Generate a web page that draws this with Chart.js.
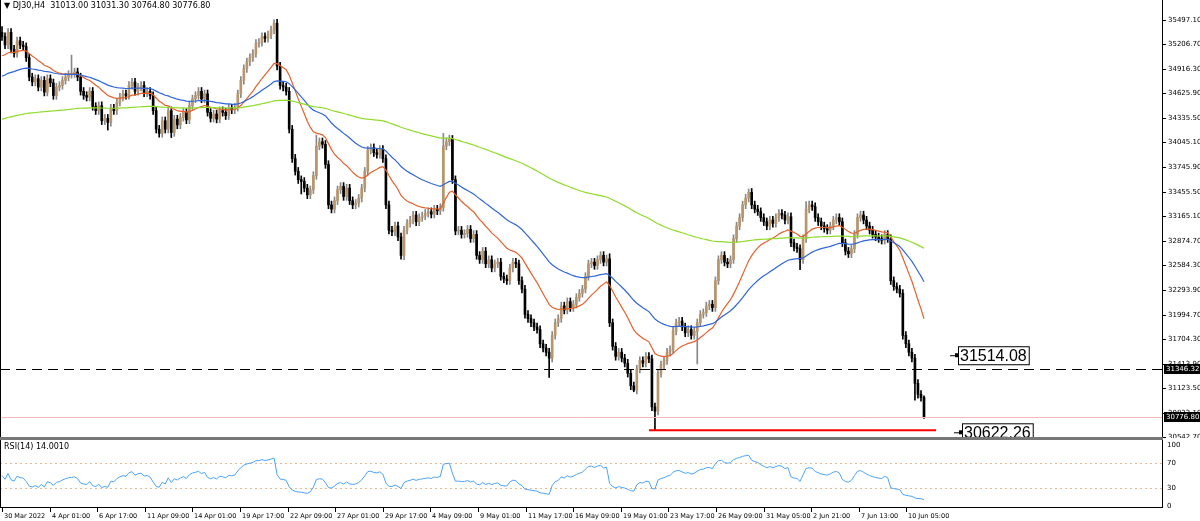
<!DOCTYPE html>
<html><head><meta charset="utf-8">
<script src="https://cdn.jsdelivr.net/npm/chart.js@4/dist/chart.umd.min.js"></script>
<style>
html,body{margin:0;padding:0;background:#fff;width:1200px;height:521px;overflow:hidden;font-family:"Liberation Sans",Arial,sans-serif}
#main{position:absolute;left:0;top:0}
#rsi{position:absolute;left:0;top:440px}
#frame{position:absolute;left:0;top:0;width:1163px;height:508px;border-left:1px solid #000;border-right:1px solid #000;border-bottom:1px solid #000;box-sizing:border-box;pointer-events:none}
#sep{position:absolute;left:0;top:437px;width:1163px;height:3px;background:#777}
#title{position:absolute;left:4px;top:1px;font-size:8px;color:#000;font-family:"DejaVu Sans",sans-serif}
#rsit{position:absolute;left:4px;top:442px;font-size:8px;color:#000;font-family:"DejaVu Sans",sans-serif}
</style></head><body>
<canvas id="main" width="1200" height="438"></canvas>
<canvas id="rsi" width="1200" height="81"></canvas>
<div id="frame"></div><div id="sep"></div>
<div id="title">&#9660; DJ30,H4&nbsp; 31013.00 31031.30 30764.80 30776.80</div>
<div id="rsit">RSI(14) 14.0010</div>
<script>
// ---- data ----
const closes = [
35300,35200,35350,35150,35100,35250,35200,35180,35050,34820,
34760,34800,34700,34780,34640,34800,34750,34600,34700,34720,
34780,34820,34850,34860,34880,34820,34650,34600,34580,34650,
34470,34420,34480,34300,34330,34280,34450,34420,
34520,34580,34620,34600,34720,34760,34650,34700,34720,
34630,34650,34600,
34420,34200,34150,34300,34200,34420,34160,
34320,34250,34340,34400,34310,
34480,34560,34600,34650,34560,34620,
34400,34330,34380,34320,34420,34400,34360,
34450,34430,34460,
34620,34780,34920,35000,35050,35100,35220,
35230,35300,35280,35320,35380,35460,
34950,34720,34700,34650,
34200,33850,33700,33600,33580,
33500,33420,33480,
33650,34000,34050,34020,
33780,33300,33250,
33350,33480,33520,33400,33500,
33350,33300,33320,33380,33500,
33700,33950,33980,33920,33900,33960,33850,
33300,33000,
32980,33050,32920,32700,33000,
33080,33120,33180,33100,33150,33170,
33200,33220,33190,33250,33230,33270,
34000,34050,34080,
33600,
32990,33000,32950,
32960,33010,32900,32950,
32700,32650,32750,
32600,32650,32550,32600,32620,
32450,32420,32400,
32550,32620,32600,
32400,32300,32000,31950,
31900,31850,31820,
31650,31600,31550,31480,
31750,31900,31950,
32100,32050,32150,32080,32120,
32200,32250,32300,
32450,32600,32620,32580,
32650,32700,32620,32660,
31900,
31620,31500,31550,31480,
31420,31300,31150,31100,
31350,31450,31420,31500,31470,
30900,30850,
31300,31400,
31450,31550,31580,
31800,31900,31920,
31850,31780,31820,31750,31800,
31900,32000,32020,
32100,32120,32080,
32400,32650,32700,
32620,32600,32650,
32900,33050,33150,
33300,33380,33450,
33300,33250,33220,
33150,33100,33050,33120,33080,
33150,33200,33180,33120,33160,
32850,32800,32780,
32650,
32900,33250,33300,33280,
33150,33100,33050,
33020,33000,33050,
33120,33150,33100,
32850,32750,32720,32780,
32950,
33150,33180,33120,
33050,33000,32950,
32920,32900,32880,32950,32900,
32400,32330,
32300,32250,
31750,31650,
31550,31480,
31180,31050,
31013,30776.8];
const firstOpen = 35350;
// notable wick extremes (bar index -> price)
const highWicks = {0:35420,23:35080,90:35500,97:33900,104:34130,146:34150,148:34130,201:32720,247:33490,266:33340,305:31031.3};
const lowWicks  = {35:34190,56:34100,99:33430,133:32650,181:31250,209:31080,216:30622.26,230:31410,264:32530,302:30980,305:30764.8};
const defaultWick = 45;
const yTicks = ["35497.10","35206.70","34916.30","34625.90","34335.50","34045.10","33745.90","33455.50","33165.10","32874.70","32584.30","32293.90","31994.70","31704.30","31413.90","31123.50","30833.10","30542.70"];
const xTickLabels = ["30 Mar 2022","4 Apr 01:00","6 Apr 17:00","11 Apr 09:00","14 Apr 01:00","19 Apr 17:00","22 Apr 09:00","27 Apr 01:00","29 Apr 17:00","4 May 09:00","9 May 01:00","11 May 17:00","16 May 09:00","19 May 01:00","23 May 17:00","26 May 09:00","31 May 05:00","2 Jun 21:00","7 Jun 13:00","10 Jun 05:00"];
const lineLevel = 31346.32, bidLevel = 30776.8, supportLevel = 30622.26, resistLabel = "31514.08", supportLabel = "30622.26";
const rsiLevels = [70,30];
const emaSeeds = {fast:[21,35050], mid:[50,34810], slow:[200,34310]};

// ---- derived ----
const N = closes.length;
const opens = closes.map((c,i)=> i===0 ? firstOpen : closes[i-1]);
const highs = closes.map((c,i)=> highWicks[i] ?? Math.max(opens[i],c)+defaultWick);
const lows  = closes.map((c,i)=> lowWicks[i] ?? Math.min(opens[i],c)-defaultWick);
function ema(p,seed){let v=seed;return closes.map((c,i)=>{v=v+(c-v)*2/(p+1);return {x:i,y:v};});}
function rsi(p){let ag=30,al=30,out=[];for(let i=0;i<N;i++){const ch=i?closes[i]-closes[i-1]:0;const g=Math.max(ch,0),l=Math.max(-ch,0);ag=(ag*(p-1)+g)/p;al=(al*(p-1)+l)/p;out.push({x:i,y:100-100/(1+ag/al)});}return out;}

const PX0=2, PXLAST=924, RIGHT=1163;
const perBar=(PXLAST-PX0)/(N-1);
const xMin=-PX0/perBar, xMax=xMin+RIGHT/perBar;
const yPer=(437-20)/(35497.1-30542.7);
const yMax=35497.1+20/yPer, yMin=30542.7-1/yPer;

const bull='#b8956a', bear='#000';
const wick=closes.map((c,i)=>({x:i,y:[lows[i],highs[i]]}));
const body=closes.map((c,i)=>{let a=Math.min(opens[i],c),b=Math.max(opens[i],c);if(b-a<12)b=a+12;return {x:i,y:[a,b]};});
const isUp=closes.map((c,i)=>c>=opens[i]);
const AXF='7px "DejaVu Sans"';

const overlay={id:'ov',afterDatasetsDraw(ch){
 const {ctx,scales:{x,y}}=ch;ctx.save();
 ctx.strokeStyle='#f6b8b8';ctx.lineWidth=1;ctx.beginPath();let py=Math.round(y.getPixelForValue(bidLevel))+.5;ctx.moveTo(0,py);ctx.lineTo(RIGHT,py);ctx.stroke();
 ctx.strokeStyle='#000';ctx.setLineDash([10,6]);py=Math.round(y.getPixelForValue(lineLevel))+.5;ctx.beginPath();ctx.moveTo(0,py);ctx.lineTo(RIGHT,py);ctx.stroke();ctx.setLineDash([]);
 ctx.strokeStyle='#ff0000';ctx.lineWidth=2;py=y.getPixelForValue(supportLevel);ctx.beginPath();ctx.moveTo(x.getPixelForValue(214),py);ctx.lineTo(x.getPixelForValue(309),py);ctx.stroke();
 ctx.font='16px "Liberation Sans"';ctx.textBaseline='middle';ctx.lineWidth=1;
 function box(t,x0,cy){const w=ctx.measureText(t).width+4;ctx.fillStyle='#fff';ctx.fillRect(x0,cy-9,w,18);ctx.strokeStyle='#000';ctx.strokeRect(x0+.5,cy-9+.5,w,18);ctx.fillStyle='#000';ctx.fillText(t,x0+2,cy+1);ctx.beginPath();ctx.moveTo(x0-8,cy+.5);ctx.lineTo(x0,cy+.5);ctx.stroke();ctx.fillRect(x0-3,cy-2,3,4);}
 box(resistLabel,958,y.getPixelForValue(31514.08));
 box(supportLabel,962,y.getPixelForValue(supportLevel)+2);
 ctx.font=AXF;ctx.fillStyle='#000';ctx.strokeStyle='#000';
 yTicks.forEach(t=>{const p=Math.round(y.getPixelForValue(parseFloat(t)));ctx.beginPath();ctx.moveTo(RIGHT,p+.5);ctx.lineTo(RIGHT+3,p+.5);ctx.stroke();ctx.fillText(t,RIGHT+5,p);});
 function tag(t,v){const p=Math.round(y.getPixelForValue(v));ctx.fillStyle='#000';ctx.fillRect(RIGHT+1,p-5,36,10);ctx.fillStyle='#fff';ctx.fillText(t,RIGHT+3,p);}
 tag('31346.32',lineLevel);tag('30776.80',bidLevel);
 ctx.restore();}};

new Chart(document.getElementById('main'),{
 data:{datasets:[
  {type:'bar',data:wick,barThickness:1,backgroundColor:closes.map((c,i)=>isUp[i]?'#888':'#000'),grouped:false,order:3},
  {type:'bar',data:body,barThickness:2,backgroundColor:closes.map((c,i)=>isUp[i]?bull:bear),grouped:false,order:2},
  {type:'line',data:ema(...emaSeeds.slow),borderColor:'#8fdc2a',borderWidth:1.2,pointRadius:0,order:1},
  {type:'line',data:ema(...emaSeeds.mid),borderColor:'#2f66d8',borderWidth:1.2,pointRadius:0,order:1},
  {type:'line',data:ema(...emaSeeds.fast),borderColor:'#e5602a',borderWidth:1.2,pointRadius:0,order:1}
 ]},
 options:{animation:false,responsive:false,events:[],layout:{padding:{left:0,right:1200-RIGHT,top:0,bottom:0}},
  plugins:{legend:{display:false},tooltip:{enabled:false}},
  scales:{x:{type:'linear',offset:false,min:xMin,max:xMax,display:false},y:{min:yMin,max:yMax,display:false}}},
 plugins:[overlay]});

const rsiOv={id:'rov',afterDatasetsDraw(ch){const {ctx,scales:{x,y}}=ch;ctx.save();
 ctx.font=AXF;ctx.fillStyle='#000';ctx.textBaseline='middle';ctx.strokeStyle='#000';
 [100,70,30,0].forEach(v=>{const p=Math.round(y.getPixelForValue(v));ctx.fillText(String(v),RIGHT+4,p);});
 const bot=68;ctx.textBaseline='top';ctx.font='6.5px "DejaVu Sans"';
 xTickLabels.forEach((t,k)=>{const p=Math.round(x.getPixelForValue(k*47.6/perBar));ctx.beginPath();ctx.moveTo(p+.5,bot);ctx.lineTo(p+.5,bot+4);ctx.stroke();ctx.fillText(t,p+2,bot+5);});
 ctx.restore();},
 beforeDatasetsDraw(ch){const {ctx,scales:{y}}=ch;ctx.save();ctx.strokeStyle='#e8b890';ctx.setLineDash([2,3]);
 rsiLevels.forEach(v=>{const p=Math.round(y.getPixelForValue(v))+.5;ctx.beginPath();ctx.moveTo(0,p);ctx.lineTo(RIGHT,p);ctx.stroke();});ctx.restore();}};
const rPer=(66-5)/100;
new Chart(document.getElementById('rsi'),{
 data:{datasets:[{type:'line',data:rsi(14),borderColor:'#4aa3ff',borderWidth:1,pointRadius:0}]},
 options:{animation:false,responsive:false,events:[],layout:{padding:{left:0,right:1200-RIGHT,top:0,bottom:13}},
  plugins:{legend:{display:false},tooltip:{enabled:false}},
  scales:{x:{type:'linear',offset:false,min:xMin,max:xMax,display:false},y:{min:-2/rPer,max:100+5/rPer,display:false}}},
 plugins:[rsiOv]});
</script></body></html>
